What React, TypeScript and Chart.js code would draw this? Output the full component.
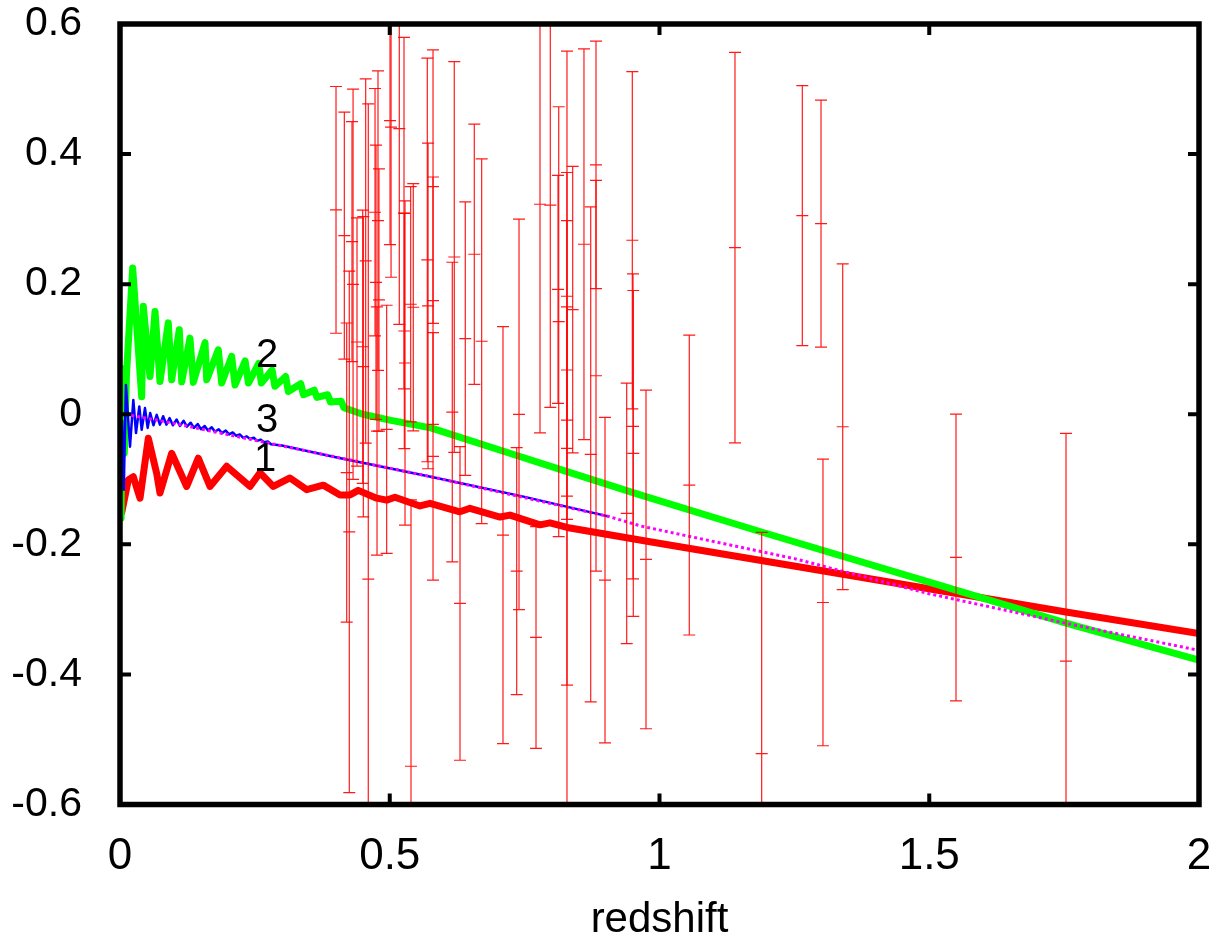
import React, { useEffect, useRef } from 'react';
import { Chart, registerables } from 'chart.js';

Chart.register(...registerables);

// ---- axes ----
const xTicks = [0, 0.5, 1, 1.5, 2];
const xTickLabels = ['0', '0.5', '1', '1.5', '2'];
const yTicks = [-0.6, -0.4, -0.2, 0, 0.2, 0.4, 0.6];
const yTickLabels = ['-0.6', '-0.4', '-0.2', '0', '0.2', '0.4', '0.6'];
const xTitle = 'redshift';

// ---- curve 1 (red) ----
const curve1Z = [0.001, 0.003, 0.0154, 0.0247, 0.0321, 0.0371, 0.0525, 0.068, 0.0741, 0.0958, 0.1236, 0.1451, 0.1668, 0.1978, 0.241, 0.2595, 0.2842, 0.3151, 0.346, 0.3768, 0.4078, 0.4263, 0.4417, 0.4758, 0.4943, 0.5097, 0.556, 0.5746, 0.63, 0.6487, 0.7044, 0.7229, 0.7785, 0.797, 0.834, 0.9824, 1.483, 1.7535, 2.0];
const curve1V = [-0.12, -0.152, -0.101, -0.096, -0.116, -0.129, -0.037, -0.091, -0.121, -0.06, -0.111, -0.0675, -0.111, -0.08, -0.111, -0.09, -0.111, -0.098, -0.116, -0.109, -0.124, -0.124, -0.117, -0.129, -0.132, -0.1276, -0.141, -0.137, -0.15, -0.1446, -0.158, -0.155, -0.17, -0.167, -0.175, -0.196, -0.266, -0.304, -0.337];

// ---- curve 2 (green) ----
const curve2Z = [0.002, 0.004, 0.008, 0.012, 0.0235, 0.0402, 0.0432, 0.0556, 0.0649, 0.0741, 0.0895, 0.0958, 0.1099, 0.1144, 0.1297, 0.1359, 0.1576, 0.1607, 0.1822, 0.1885, 0.207, 0.2132, 0.232, 0.238, 0.257, 0.262, 0.282, 0.287, 0.307, 0.312, 0.335, 0.34, 0.36, 0.365, 0.385, 0.39, 0.41, 0.415, 0.45, 0.5, 0.576, 0.734, 0.82, 0.964, 1.189, 1.52, 1.757, 2.0];
const curve2V = [-0.16, 0.07, -0.06, 0.06, 0.225, 0.027, 0.166, 0.058, 0.158, 0.0505, 0.1405, 0.053, 0.13, 0.05, 0.117, 0.049, 0.11, 0.053, 0.099, 0.048, 0.089, 0.045, 0.082, 0.048, 0.078, 0.048, 0.068, 0.043, 0.058, 0.035, 0.047, 0.03, 0.037, 0.026, 0.03, 0.019, 0.02, 0.01, 0.0, -0.009, -0.021, -0.063, -0.086, -0.124, -0.181, -0.263, -0.322, -0.378];

// ---- curve 3 (blue) ----
const curve3Z = [0.004, 0.007, 0.011, 0.0185, 0.0247, 0.0297, 0.0358, 0.0402, 0.0463, 0.0513, 0.056, 0.062, 0.068, 0.074, 0.08, 0.086, 0.092, 0.098, 0.105, 0.111, 0.118, 0.124, 0.131, 0.137, 0.144, 0.15, 0.157, 0.163, 0.17, 0.176, 0.183, 0.189, 0.196, 0.202, 0.209, 0.215, 0.222, 0.228, 0.235, 0.241, 0.248, 0.254, 0.261, 0.267, 0.274, 0.28, 0.3, 0.4, 0.576, 0.75, 0.905];
const curve3V = [-0.01, -0.116, 0.045, -0.05, 0.022, -0.029, 0.012, -0.024, 0.0095, -0.021, 0.002, -0.017, -0.001, -0.016, -0.003, -0.016, -0.006, -0.017, -0.008, -0.018, -0.01, -0.019, -0.013, -0.021, -0.015, -0.023, -0.018, -0.025, -0.02, -0.027, -0.023, -0.029, -0.025, -0.031, -0.028, -0.033, -0.031, -0.036, -0.034, -0.038, -0.036, -0.041, -0.039, -0.043, -0.042, -0.046, -0.048, -0.066, -0.096, -0.127, -0.157];

// ---- smooth fit (magenta dotted) ----
const fitZ = [0.01, 0.1, 0.273, 0.576, 0.905, 0.966, 1.25, 1.5, 1.757, 2.0];
const fitV = [0.0, -0.014, -0.044, -0.096, -0.157, -0.172, -0.222, -0.276, -0.322, -0.363];

// ---- data points with error bars ----
const errZ = [0.4004, 0.4158, 0.4202, 0.425, 0.43, 0.432, 0.4393, 0.4499, 0.451, 0.4554, 0.4602, 0.4727, 0.4782, 0.48, 0.4764, 0.4745, 0.4943, 0.5005, 0.5024, 0.5177, 0.5264, 0.527, 0.5283, 0.5436, 0.5388, 0.5394, 0.5696, 0.571, 0.5802, 0.5802, 0.5802, 0.6196, 0.6159, 0.64, 0.6302, 0.6567, 0.6704, 0.7099, 0.7396, 0.7353, 0.7711, 0.7785, 0.7976, 0.8132, 0.8119, 0.8285, 0.8285, 0.8285, 0.8285, 0.8391, 0.86, 0.8725, 0.8823, 0.8823, 0.899, 0.9392, 0.9496, 0.9514, 0.9509, 0.975, 1.0552, 1.1399, 1.2647, 1.2994, 1.3396, 1.1894, 1.303, 1.5496, 1.7535];
const errVal = [0.3142, 0.2746, -0.0897, -0.1808, 0.2654, 0.1998, 0.1111, 0.1038, 0.0731, 0.2357, -0.2535, 0.3106, 0.2977, 0.1757, -0.0258, 0.2029, -0.0232, 0.4515, 0.4414, 0.4392, 0.3091, 0.128, 0.0788, 0.1645, 0.1691, -0.5412, 0.2372, 0.1665, 0.35, 0.1746, -0.0648, 0.2418, 0.0034, 0.1162, -0.2909, 0.246, 0.1122, -0.1858, -0.0002, -0.2412, -0.3432, 0.3229, 0.3214, 0.1423, 0.192, 0.1814, -0.1258, -0.0525, 0.068, 0.1608, 0.2614, -0.0617, 0.3834, 0.0592, -0.2551, -0.1525, 0.2675, -0.0602, -0.0186, -0.2232, -0.1089, 0.2562, 0.3054, 0.2931, -0.0192, -0.5217, -0.2894, -0.2202, -0.3797];
const errSig = [0.1897, 0.19, 0.23, 0.4008, 0.1846, 0.3, 0.1908, 0.21, 0.2308, 0.28, 0.7308, 0.1902, 0.2303, 0.2015, 0.1908, 0.2108, 0.1908, 0.1908, 0.2308, 0.3009, 0.2702, 0.1808, 0.2492, 0.1902, 0.1808, 0.4097, 0.3102, 0.2503, 0.2102, 0.1902, 0.1903, 0.3005, 0.2303, 0.2103, 0.2411, 0.2, 0.2803, 0.3205, 0.3003, 0.19, 0.1705, 0.3514, 0.3108, 0.3305, 0.1754, 0.1903, 0.2908, 0.6108, 0.2297, 0.2203, 0.3003, 0.3805, 0.1903, 0.3003, 0.2503, 0.2003, 0.2592, 0.2505, 0.2345, 0.2603, 0.2305, 0.3003, 0.2, 0.19, 0.2503, 0.34, 0.2203, 0.2205, 0.3503];

// ---- curve labels ----
const labelTexts = ['2', '3', '1'];
const labelZ = [0.2725, 0.2725, 0.2688];
const labelV = [0.0895, -0.0097, -0.0705];

const FONT = "'Liberation Sans', Arial, Helvetica, sans-serif";

const zip = (xs: number[], ys: number[]) => xs.map((x, i) => ({ x, y: ys[i] }));

const errorBarPlugin = {
  id: 'errorBars',
  afterDatasetsDraw(chart: any) {
    const { ctx, chartArea: a, scales } = chart;
    const xs = scales.x;
    const ys = scales.y;
    ctx.save();
    ctx.beginPath();
    ctx.rect(a.left, a.top, a.right - a.left, a.bottom - a.top);
    ctx.clip();
    ctx.strokeStyle = 'rgba(255,0,0,0.9)';
    ctx.lineWidth = 1.2;
    const cap = 6;
    for (let i = 0; i < errZ.length; i++) {
      const px = xs.getPixelForValue(errZ[i]);
      const pc = ys.getPixelForValue(errVal[i]);
      const pt = ys.getPixelForValue(errVal[i] + errSig[i]);
      const pb = ys.getPixelForValue(errVal[i] - errSig[i]);
      ctx.beginPath();
      ctx.moveTo(px, pt);
      ctx.lineTo(px, pb);
      ctx.moveTo(px - cap, pt);
      ctx.lineTo(px + cap, pt);
      ctx.moveTo(px - cap, pb);
      ctx.lineTo(px + cap, pb);
      ctx.moveTo(px - cap, pc);
      ctx.lineTo(px + cap, pc);
      ctx.stroke();
    }
    ctx.restore();
  },
};

const framePlugin = {
  id: 'frameTicks',
  afterDraw(chart: any) {
    const { ctx, chartArea: a, scales } = chart;
    const xs = scales.x;
    const ys = scales.y;
    ctx.save();
    ctx.strokeStyle = '#000';
    ctx.lineWidth = 4;
    const L = 11;
    ctx.beginPath();
    xTicks.forEach((v) => {
      const px = xs.getPixelForValue(v);
      ctx.moveTo(px, a.bottom);
      ctx.lineTo(px, a.bottom - L);
      ctx.moveTo(px, a.top);
      ctx.lineTo(px, a.top + L);
    });
    yTicks.forEach((v) => {
      const py = ys.getPixelForValue(v);
      ctx.moveTo(a.left, py);
      ctx.lineTo(a.left + L, py);
      ctx.moveTo(a.right, py);
      ctx.lineTo(a.right - L, py);
    });
    ctx.stroke();
    ctx.lineWidth = 5.5;
    ctx.strokeRect(a.left, a.top, a.right - a.left, a.bottom - a.top);
    // curve labels
    ctx.fillStyle = '#000';
    ctx.font = `40px ${FONT}`;
    ctx.textAlign = 'center';
    ctx.textBaseline = 'middle';
    labelTexts.forEach((t, i) => {
      ctx.fillText(t, xs.getPixelForValue(labelZ[i]), ys.getPixelForValue(labelV[i]));
    });
    ctx.restore();
  },
};

export default function App() {
  const canvasRef = useRef<HTMLCanvasElement | null>(null);

  useEffect(() => {
    if (!canvasRef.current) return;
    const lineDs = (label: string, data: any[], color: string, width: number, dash?: number[]) => ({
      label,
      data,
      showLine: true,
      borderColor: color,
      backgroundColor: color,
      borderWidth: width,
      borderDash: dash || [],
      borderJoinStyle: 'round',
      borderCapStyle: dash ? 'butt' : 'round',
      pointRadius: 0,
      pointHoverRadius: 0,
      fill: false,
      tension: 0,
    });
    const chart = new Chart(canvasRef.current, {
      type: 'scatter',
      data: {
        datasets: [
          lineDs('fit', zip(fitZ, fitV), '#ff00ff', 3, [3, 3]),
          lineDs('3', zip(curve3Z, curve3V), '#0000ff', 2.5),
          lineDs('2', zip(curve2Z, curve2V), '#00ff00', 7),
          lineDs('1', zip(curve1Z, curve1V), '#ff0000', 7),
        ] as any,
      },
      options: {
        responsive: false,
        maintainAspectRatio: false,
        animation: false,
        layout: { padding: { left: 0, right: 18, top: 24, bottom: 0 } },
        plugins: {
          legend: { display: false },
          tooltip: { enabled: false },
        },
        scales: {
          x: {
            type: 'linear',
            min: 0,
            max: 2,
            grid: { display: false },
            border: { display: false },
            afterBuildTicks: (s: any) => {
              s.ticks = xTicks.map((v) => ({ value: v }));
            },
            afterFit: (s: any) => {
              s.height = 943 - 804.5;
              s.paddingLeft = 0;
              s.paddingRight = 0;
            },
            ticks: {
              autoSkip: false,
              maxRotation: 0,
              padding: 22,
              color: '#000',
              font: { family: FONT, size: 44, lineHeight: 1 },
              callback: (_v: any, i: number) => xTickLabels[i],
            },
            title: {
              display: true,
              text: xTitle,
              color: '#000',
              font: { family: FONT, size: 42, lineHeight: 1 },
              padding: { top: 0, bottom: 2 },
            },
          },
          y: {
            type: 'linear',
            min: -0.6,
            max: 0.6,
            grid: { display: false },
            border: { display: false },
            afterBuildTicks: (s: any) => {
              s.ticks = yTicks.map((v) => ({ value: v }));
            },
            afterFit: (s: any) => {
              s.width = 120;
              s.paddingTop = 0;
              s.paddingBottom = 0;
            },
            ticks: {
              autoSkip: false,
              padding: 30,
              color: '#000',
              font: { family: FONT, size: 41, lineHeight: 1 },
              callback: (_v: any, i: number) => yTickLabels[i],
            },
          },
        },
      } as any,
      plugins: [errorBarPlugin, framePlugin],
    });
    return () => chart.destroy();
  }, []);

  return (
    <div style={{ position: 'fixed', left: 0, top: 0, width: 1217, height: 943, background: '#fff' }}>
      <canvas ref={canvasRef} width={1217} height={943} />
    </div>
  );
}
